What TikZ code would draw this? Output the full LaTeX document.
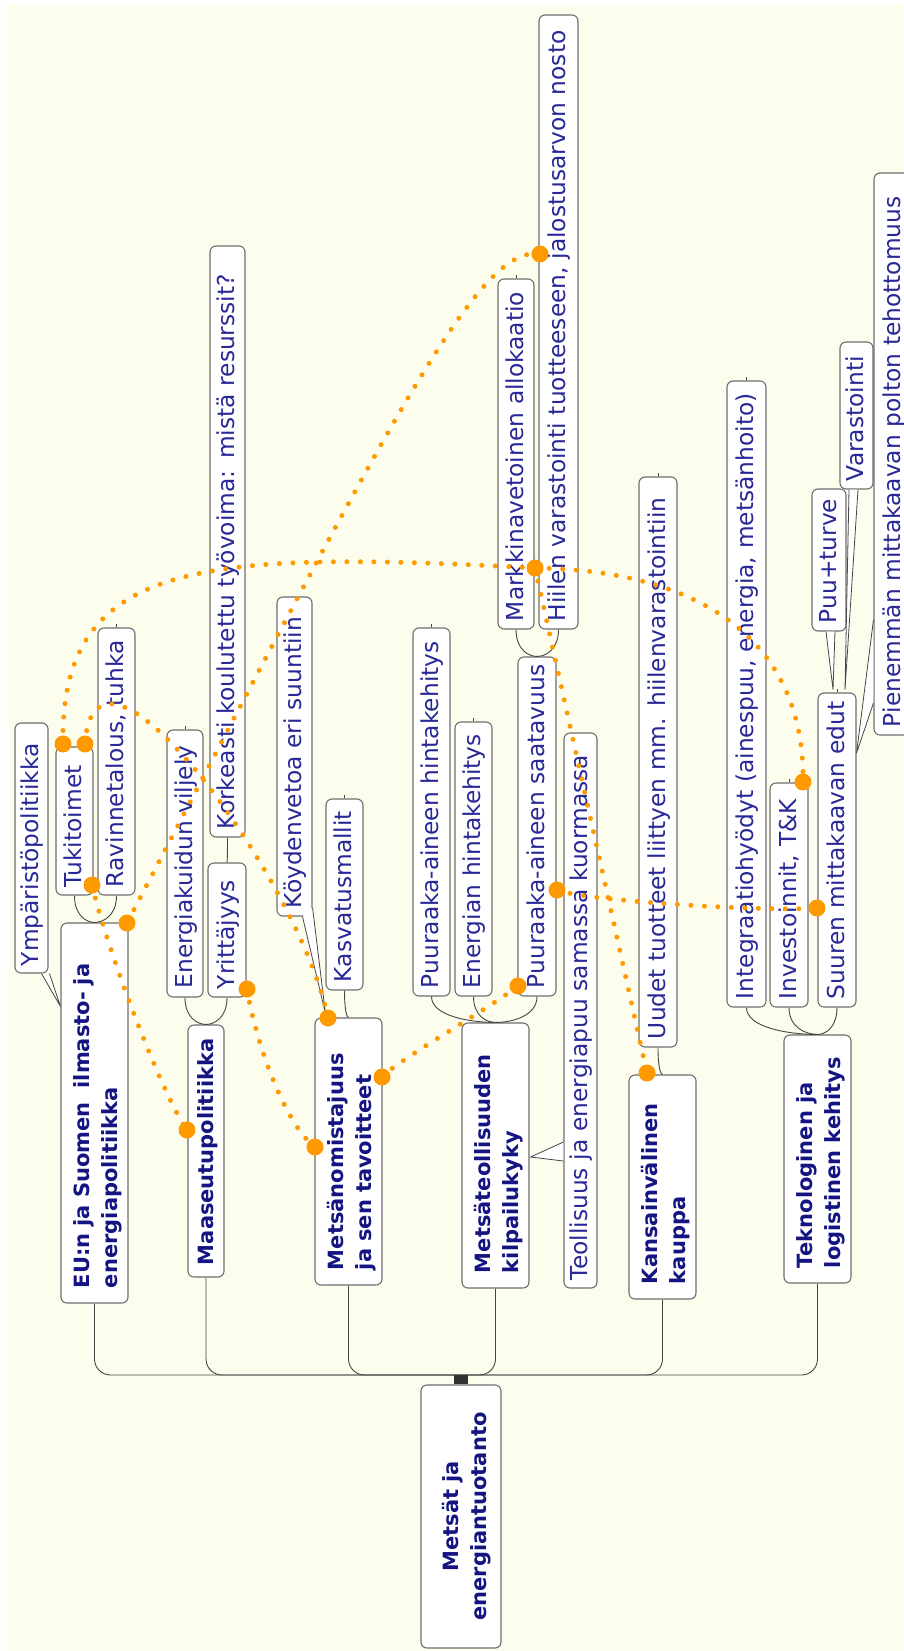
\documentclass[tikz,border=0pt]{standalone}
\usepackage{fontspec}
\setmainfont{DejaVu Sans}
\usetikzlibrary{calc}
\definecolor{bgcream}{RGB}{253,253,238}
\definecolor{boxgray}{RGB}{110,110,110}
\definecolor{edgegray}{RGB}{70,70,70}
\definecolor{stubgray}{RGB}{50,50,50}
\definecolor{maintext}{RGB}{20,20,130}
\definecolor{leaftext}{RGB}{40,40,150}
\definecolor{linkorange}{RGB}{255,153,0}
\tikzset{
  nbox/.style={draw=boxgray, fill=white, line width=1.1pt, rounded corners=6pt, rotate=90, inner sep=0pt},
  leaf/.style={nbox, font=\fontsize{23.3}{28}\selectfont, text=leaftext, align=left, text height=17pt, text depth=3pt},
  mainn/.style={nbox, font=\fontsize{21}{28}\selectfont\bfseries, text=maintext, align=left, text height=20pt, text depth=30pt},
  mainone/.style={mainn, text height=16pt, text depth=2pt},
  rootn/.style={nbox, font=\fontsize{21}{28}\selectfont\bfseries, text=maintext, align=center, text height=22pt, text depth=28pt},
  edge/.style={draw=edgegray, line width=0.9pt},
  wedge/.style={draw=edgegray, fill=white, line width=0.8pt, line join=round},
  link/.style={draw=linkorange, line width=5pt, line cap=round, dash pattern=on 0pt off 13.5pt},
}
% #1 style, #2 name, #3 x1, #4 x2, #5 y1, #6 y2, #7 pad, #8 text
\newcommand{\mmnode}[8]{%
  \pgfmathsetmacro{\mmcx}{(#3+#4)/2}%
  \pgfmathsetmacro{\mmcy}{(#5+#6)/2}%
  \pgfmathsetmacro{\mmlen}{#6-#5}%
  \pgfmathsetmacro{\mmthk}{#4-#3}%
  \pgfmathsetmacro{\mmtw}{#6-#5-2*#7}%
  \node[#1, minimum width=\mmlen pt, minimum height=\mmthk pt, text width=\mmtw pt] (#2) at (\mmcx,\mmcy) {#8};%
}
\newcommand{\uedge}[2]{%
  \path (#1.west |- #2.east) coordinate (uc);%
  \draw[edge] (#1.west) .. controls ($(#1.west)!0.75!(uc)$) and ($(#2.east)!0.4!(uc)$) .. (#2.east);%
}
\begin{document}
\begin{tikzpicture}[x=1pt,y=-1pt]
\useasboundingbox (0,0) rectangle (903,1651);
\fill[white] (0,0) rectangle (903,1651);
\fill[bgcream] (7,5) rectangle (903,1651);

% root and main branches
\mmnode{rootn}{root}{421}{501}{1385}{1648}{10}{\mbox{Metsät ja}\\\mbox{energiantuotanto}}
\mmnode{mainn}{eu}{61}{128}{923}{1303}{15}{\mbox{EU:n ja Suomen\ \ ilmasto- ja}\\\mbox{energiapolitiikka}}
\mmnode{mainone}{maas}{188}{224}{1025}{1277}{12}{\mbox{Maaseutupolitiikka}}
\mmnode{mainn}{metsan}{315}{382}{1018}{1285}{15}{\mbox{Metsänomistajuus}\\\mbox{ja sen tavoitteet}}
\mmnode{mainn}{metsat}{462}{529}{1023}{1288}{15}{\mbox{Metsäteollisuuden}\\\mbox{kilpailukyky}}
\mmnode{mainn}{kans}{629}{696}{1075}{1299}{15}{\mbox{Kansainvälinen}\\\mbox{kauppa}}
\mmnode{mainn}{tekno}{784}{851}{1035}{1283}{15}{\mbox{Teknologinen ja}\\\mbox{logistinen kehitys}}

% leaves
\mmnode{leaf}{ymp}{15}{48}{723}{973}{7}{\mbox{Ympäristöpolitiikka}}
\mmnode{leaf}{tuki}{56}{93}{747}{895}{8}{\mbox{Tukitoimet}}
\mmnode{leaf}{ravinne}{98}{135}{628}{895}{8}{\mbox{Ravinnetalous, tuhka}}
\mmnode{leaf}{energiak}{167}{203}{730}{997}{9}{\mbox{Energiakuidun viljely}}
\mmnode{leaf}{yritt}{208}{246}{863}{997}{8}{\mbox{Yrittäjyys}}
\mmnode{leaf}{kork}{210}{245}{246}{837}{8}{\mbox{Korkeasti koulutettu työvoima: mistä resurssit?}}
\mmnode{leaf}{koyd}{277}{312}{597}{916}{8}{\mbox{Köydenvetoa eri suuntiin}}
\mmnode{leaf}{kasv}{326}{363}{799}{990}{8}{\mbox{Kasvatusmallit}}
\mmnode{leaf}{puuhinta}{413}{450}{628}{996}{8}{\mbox{Puuraaka-aineen hintakehitys}}
\mmnode{leaf}{enhinta}{455}{492}{722}{996}{8}{\mbox{Energian hintakehitys}}
\mmnode{leaf}{saatav}{518}{556}{657}{996}{8}{\mbox{Puuraaka-aineen saatavuus}}
\mmnode{leaf}{markk}{498}{534}{279}{629}{8}{\mbox{Markkinavetoinen allokaatio}}
\mmnode{leaf}{hiilen}{539}{578}{15}{629}{8}{\mbox{Hiilen varastointi tuotteeseen, jalostusarvon nosto}}
\mmnode{leaf}{teoll}{564}{597}{733}{1288}{8}{\mbox{Teollisuus ja energiapuu samassa kuormassa}}
\mmnode{leaf}{uudet}{639}{677}{477}{1047}{8}{\mbox{Uudet tuotteet liittyen mm. hiilenvarastointiin}}
\mmnode{leaf}{integ}{727}{766}{381}{1007}{8}{\mbox{Integraatiohyödyt (ainespuu, energia, metsänhoito)}}
\mmnode{leaf}{invest}{770}{808}{783}{1007}{8}{\mbox{Investoinnit, T\&K}}
\mmnode{leaf}{suuren}{818}{856}{693}{1007}{8}{\mbox{Suuren mittakaavan edut}}
\mmnode{leaf}{puuturve}{812}{846}{489}{631}{8}{\mbox{Puu+turve}}
\mmnode{leaf}{varast}{840}{873}{342}{489}{8}{\mbox{Varastointi}}
\mmnode{leaf}{pienem}{874}{912}{173}{735}{8}{\mbox{Pienemmän mittakaavan polton tehottomuus}}

% root bus
\coordinate (bus) at (461,1375);
\foreach \b in {eu,maas,metsan,metsat,kans,tekno}
  \draw[edge, rounded corners=16pt] (bus) -| (\b.west);
\draw[draw=stubgray, line width=14pt] (root.east) -- (bus);

% tree edges
\uedge{tuki}{eu}
\uedge{ravinne}{eu}
\uedge{energiak}{maas}
\uedge{yritt}{maas}
\uedge{kork}{yritt}
\uedge{kasv}{metsan}
\uedge{puuhinta}{metsat}
\uedge{enhinta}{metsat}
\uedge{saatav}{metsat}
\uedge{markk}{saatav}
\uedge{hiilen}{saatav}
\uedge{uudet}{kans}
\uedge{integ}{tekno}
\uedge{invest}{tekno}
\uedge{suuren}{tekno}

% wedge connectors
\filldraw[wedge] ($(ymp.west)+(10,0)$) -- ($(eu.north east)+(0,84)$) -- ($(ymp.west)+(18,0)$);
\filldraw[wedge] ($(koyd.west)+(8,0)$) -- ($(metsan.north east)+(11,-4)$) -- ($(koyd.south west)+(0,-9)$);
\filldraw[wedge] ($(teoll.north)+(0,131.5)$) -- ($(metsat.south)+(1,1.5)$) -- ($(teoll.north)+(0,150.5)$);
\filldraw[wedge] ($(puuturve.west)+(-3,0)$) -- ($(suuren.east)+(-4,-3)$) -- ($(puuturve.west)+(6,0)$);
\filldraw[wedge] ($(varast.west)+(-7.5,0)$) -- ($(suuren.east)+(8,-3)$) -- ($(varast.west)+(1.5,0)$);
\filldraw[wedge] ($(pienem.north)+(0,166)$) -- ($(suuren.south)+(0,-97)$) -- ($(pienem.north)+(0,249)$);

% small ticks on node tops
\foreach \n in {ravinne,energiak,kasv,puuhinta,enhinta,markk,uudet,integ,invest,suuren}
  \draw[edge] (\n.east) -- ++(0,-3);

% arrow-link endpoints
\coordinate (hiilenD) at (540,254);
\coordinate (euD) at (127,923);
\coordinate (tukiA) at (63,744);
\coordinate (tukiB) at (85,744);
\coordinate (tukiC) at (92,885);
\coordinate (maasD) at (187,1130);
\coordinate (yrittD) at (247,989);
\coordinate (metsanA) at (315,1147);
\coordinate (metsanB) at (328,1018);
\coordinate (metsanC) at (382,1077);
\coordinate (saatA) at (518,986);
\coordinate (saatB) at (557,890);
\coordinate (suurenD) at (817,908);
\coordinate (kansD) at (647,1073);
\coordinate (investD) at (803,782);
\coordinate (markkD) at (535,568);

% dotted links
\draw[link] (hiilenD) .. controls (480,245) and (400,400) .. (euD);
\draw[link] (tukiA) .. controls (60,560) and (200,550) .. (markkD) .. controls (700,570) and (805,640) .. (investD);
\draw[link] (tukiB) .. controls (95,600) and (300,880) .. (metsanB);
\draw[link] (tukiC) .. controls (110,960) and (165,1100) .. (maasD);
\draw[link] (yrittD) .. controls (255,1040) and (285,1125) .. (metsanA);
\draw[link] (metsanC) .. controls (395,1062) and (490,1008) .. (saatA);
\draw[link] (saatB) .. controls (580,900) and (760,912) .. (suurenD);
\draw[link] (markkD) -- (kansD);

\foreach \p in {hiilenD,euD,tukiA,tukiB,tukiC,maasD,yrittD,metsanA,metsanB,metsanC,saatA,saatB,suurenD,kansD,investD,markkD}
  \fill[linkorange] (\p) circle (8.5pt);
\end{tikzpicture}
\end{document}
